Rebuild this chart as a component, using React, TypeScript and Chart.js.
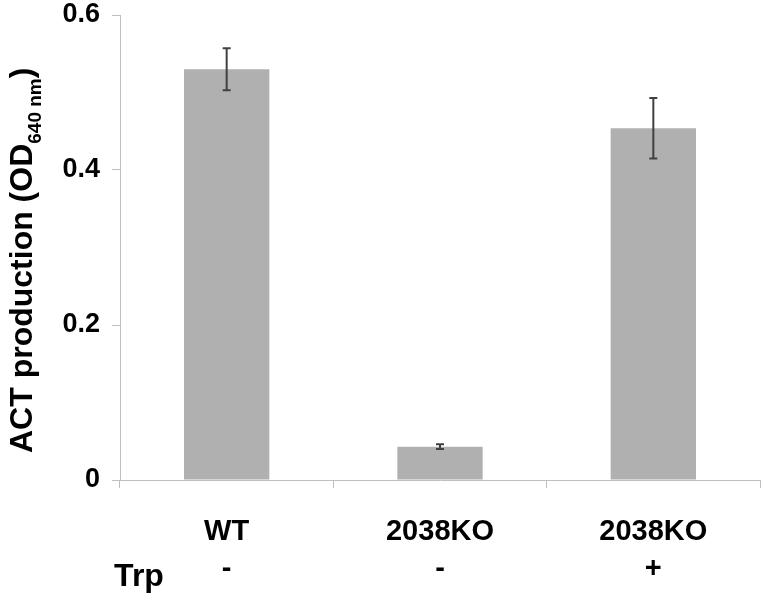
import React, { useEffect, useRef } from "react";
import { Chart, registerables } from "chart.js";

Chart.register(...registerables);

const strains = ["WT", "2038KO", "2038KO"];
const trp = ["-", "-", "+"];
const values = [0.53, 0.043, 0.454];
const errors = [0.027, 0.003, 0.039];
const yTicks = [0, 0.2, 0.4, 0.6];

const FONT = "'Liberation Sans', Arial, sans-serif";
const AXIS_COLOR = "#bfbfbf";

const errorBarPlugin = {
  id: "errorBars",
  afterDatasetsDraw(chart: any) {
    const ctx = chart.ctx;
    const meta = chart.getDatasetMeta(0);
    const y = chart.scales.y;
    ctx.save();
    ctx.strokeStyle = "#404040";
    ctx.lineWidth = 2;
    meta.data.forEach((bar: any, i: number) => {
      const x = bar.x;
      const top = y.getPixelForValue(values[i] + errors[i]);
      const bot = y.getPixelForValue(values[i] - errors[i]);
      ctx.beginPath();
      ctx.moveTo(x, top);
      ctx.lineTo(x, bot);
      ctx.moveTo(x - 4, top);
      ctx.lineTo(x + 4, top);
      ctx.moveTo(x - 4, bot);
      ctx.lineTo(x + 4, bot);
      ctx.stroke();
    });
    ctx.restore();
  },
};

const textPlugin = {
  id: "extraText",
  afterDraw(chart: any) {
    const ctx = chart.ctx;
    const area = chart.chartArea;
    ctx.save();
    ctx.fillStyle = "#000";
    // Trp row label
    ctx.font = `bold 32px ${FONT}`;
    ctx.textAlign = "center";
    ctx.textBaseline = "alphabetic";
    ctx.fillText("Trp", area.left + 19, 586);
    // Y axis title with subscript
    ctx.translate(32, area.bottom - 27);
    ctx.rotate(-Math.PI / 2);
    ctx.textAlign = "left";
    const main = "ACT production (OD";
    ctx.font = `bold 32px ${FONT}`;
    ctx.fillText(main, 0, 0);
    let w = ctx.measureText(main).width;
    ctx.font = `bold 19px ${FONT}`;
    const sub = "640 nm";
    ctx.fillText(sub, w, 9);
    w += ctx.measureText(sub).width;
    ctx.font = `bold 32px ${FONT}`;
    ctx.fillText(")", w, 0);
    ctx.restore();
  },
};

export default function App() {
  const ref = useRef<HTMLCanvasElement>(null);
  useEffect(() => {
    if (!ref.current) return;
    const chart = new Chart(ref.current, {
      type: "bar",
      data: {
        labels: strains.map((s, i) => [s, trp[i]]),
        datasets: [
          {
            data: values,
            backgroundColor: "#b0b0b0",
            borderWidth: 0,
            barPercentage: 0.4,
            categoryPercentage: 1,
          },
        ],
      },
      options: {
        responsive: false,
        animation: false,
        layout: { padding: { left: 0, right: 6, top: 15, bottom: 0 } },
        plugins: {
          legend: { display: false },
          tooltip: { enabled: false },
          title: { display: false },
        },
        scales: {
          x: {
            grid: {
              offset: true,
              drawOnChartArea: false,
              drawTicks: true,
              tickLength: 8,
              color: AXIS_COLOR,
            },
            border: { display: true, color: AXIS_COLOR, width: 1 },
            ticks: {
              color: "#000",
              font: { family: FONT, size: 29, weight: "bold", lineHeight: 1.28 },
              padding: 25,
              maxRotation: 0,
            },
            afterFit(scale: any) {
              scale.height = 120;
            },
          },
          y: {
            min: 0,
            max: 0.6,
            grid: {
              drawOnChartArea: false,
              drawTicks: true,
              tickLength: 8,
              color: AXIS_COLOR,
            },
            border: { display: true, color: AXIS_COLOR, width: 1 },
            afterBuildTicks(scale: any) {
              scale.ticks = yTicks.map((v) => ({ value: v }));
            },
            ticks: {
              color: "#000",
              font: { family: FONT, size: 27, weight: "bold" },
              padding: 12,
              callback: (v: any) => String(Number(v)),
            },
            afterFit(scale: any) {
              scale.width = 120;
              scale.paddingTop = 0;
            },
          },
        },
      },
      plugins: [errorBarPlugin, textPlugin],
    });
    return () => chart.destroy();
  }, []);
  return (
    <div style={{ position: "absolute", left: 0, top: 0, width: 766, height: 600, background: "#fff" }}>
      <canvas ref={ref} width={766} height={600} />
    </div>
  );
}
